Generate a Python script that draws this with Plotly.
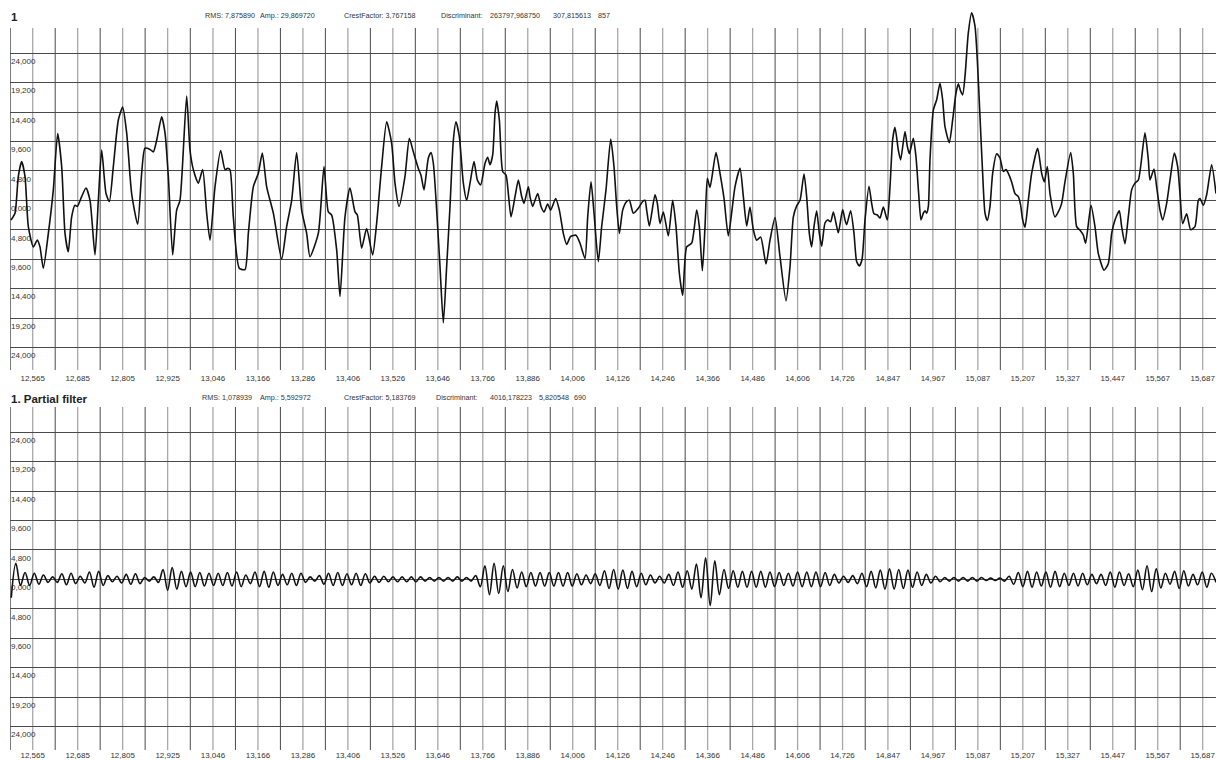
import plotly.graph_objects as go

# ---------------- data ----------------
top_t = [12.5071, 12.5177, 12.5266, 12.5355, 12.5444, 12.5533, 12.5667, 12.5773, 12.5844, 12.5933,
         12.6067, 12.6200, 12.6316, 12.6423, 12.6512, 12.6600, 12.6689, 12.6778, 12.6841, 12.6956,
         12.7072, 12.7179, 12.7312, 12.7401, 12.7490, 12.7606, 12.7695, 12.7801, 12.7935, 12.8050,
         12.8157, 12.8290, 12.8451, 12.8557, 12.8646, 12.8780, 12.8869, 12.8958, 12.9091, 12.9180,
         12.9269, 12.9385, 12.9491, 12.9580, 12.9758, 12.9847, 12.9936, 13.0069, 13.0185, 13.0292,
         13.0381, 13.0514, 13.0665, 13.0781, 13.0852, 13.0914, 13.1003, 13.1163, 13.1315, 13.1404,
         13.1537, 13.1670, 13.1777, 13.1893, 13.2071, 13.2293, 13.2426, 13.2560, 13.2693, 13.2827,
         13.2960, 13.3049, 13.3271, 13.3423, 13.3538, 13.3627, 13.3761, 13.3850, 13.3983, 13.4116,
         13.4250, 13.4312, 13.4428, 13.4561, 13.4721, 13.4828, 13.4961, 13.5095, 13.5228, 13.5317,
         13.5424,
         13.5584, 13.5700, 13.5807, 13.5940, 13.6011, 13.6091, 13.6207, 13.6278, 13.6341, 13.6429,
         13.6518, 13.6607, 13.6696, 13.6785, 13.6874, 13.6945, 13.7034, 13.7141, 13.7230, 13.7319,
         13.7426, 13.7515, 13.7604, 13.7719, 13.7790, 13.7853, 13.7924, 13.7986, 13.8031, 13.8102,
         13.8191, 13.8280, 13.8342, 13.8413, 13.8520, 13.8609, 13.8698, 13.8760, 13.8876, 13.8920,
         13.8991, 13.9125, 13.9214, 13.9294, 13.9391, 13.9471, 13.9605, 13.9703, 13.9809, 13.9898,
         14.0005, 14.0147, 14.0254, 14.0388, 14.0459, 14.0548, 14.0628, 14.0743, 14.0832, 14.0948,
         14.1073, 14.1161, 14.1233, 14.1304, 14.1393, 14.1499, 14.1571, 14.1677, 14.1811, 14.1926,
         14.1989, 14.2033, 14.2104, 14.2255, 14.2318, 14.2389, 14.2478, 14.2611, 14.2727, 14.2816,
         14.2905, 14.2994, 14.3100, 14.3234, 14.3367, 14.3438, 14.3519, 14.3590, 14.3652, 14.3723,
         14.3883, 14.3990, 14.4097, 14.4212, 14.4390, 14.4524, 14.4613, 14.4702, 14.4790, 14.4879,
         14.4968, 14.5075, 14.5217, 14.5324, 14.5458, 14.5591, 14.5751, 14.5858, 14.5947, 14.6036,
         14.6125,
         14.6231, 14.6302, 14.6373, 14.6435, 14.6498, 14.6569, 14.6640, 14.6702, 14.6791, 14.6862,
         14.6942, 14.7014, 14.7085, 14.7147, 14.7263, 14.7325, 14.7369, 14.7476, 14.7565, 14.7636,
         14.7707, 14.7778, 14.7859, 14.7965, 14.8036, 14.8099, 14.8188, 14.8259, 14.8348, 14.8454,
         14.8526, 14.8597, 14.8659, 14.8748, 14.8810, 14.8926, 14.8988, 14.9042, 14.9148, 14.9219,
         14.9291, 14.9353, 14.9415, 14.9460, 14.9504, 14.9549, 14.9593, 14.9682, 14.9771, 14.9860,
         14.9931, 14.9993, 15.0109, 15.0198, 15.0287, 15.0349, 15.0411, 15.0465, 15.0527, 15.0616,
         15.0705, 15.0794, 15.0856, 15.0927, 15.0998, 15.1061, 15.1123, 15.1194, 15.1265, 15.1372,
         15.1461, 15.1550, 15.1621, 15.1683, 15.1772, 15.1861, 15.1950, 15.2012, 15.2066, 15.2128,
         15.2217, 15.2306, 15.2466, 15.2573, 15.2644, 15.2724, 15.2795, 15.2928, 15.3017, 15.3106,
         15.3195, 15.3347, 15.3418, 15.3507, 15.3613, 15.3685, 15.3747, 15.3889, 15.3996, 15.4085,
         15.4236, 15.4352, 15.4441, 15.4530, 15.4645, 15.4707, 15.4796, 15.4885, 15.4974, 15.5063,
         15.5152, 15.5214, 15.5330, 15.5419, 15.5463, 15.5570, 15.5641, 15.5730, 15.5801, 15.5908,
         15.5997, 15.6113, 15.6202, 15.6264, 15.6335, 15.6442, 15.6549, 15.6664, 15.6753, 15.6798,
         15.6887, 15.6976, 15.7109, 15.7225]

top_v = [-3.2, -2.1, 3.9, 6.3, 3.9, -4.3, -7.6, -6.5, -7.6, -11.1,
         -5.4, 1.7, 10.9, 5.5, -5.4, -8.4, -2.7, -0.8, -1.0, 0.6,
         2.0, 0.0, -8.9, 0.0, 8.2, 1.1, -0.2, 5.5, 13.1, 15.2,
         11.0, 1.1, -3.9, 4.4, 8.5, 8.3, 7.9, 9.8, 13.6, 11.0,
         3.9, -8.9, -1.6, 0.0, 17.0, 8.2, 5.0, 2.8, 5.0, -2.1,
         -6.5, 2.2, 8.1, 5.0, 5.2, 5.0, -2.7, -11.1, -11.3, -5.4,
         2.2, 4.4, 7.7, 2.2, -2.1, -9.6, -4.3, 0.0, 7.8, -1.6,
         -5.4, -9.2, -5.4, 5.5, -1.9, -2.4, -8.1, -15.7, -2.7, 2.0,
         -1.9, -2.4, -7.8, -4.6, -8.9, -3.7, 5.5, 12.8, 9.3, 2.8,
         -1.0,
         3.9, 10.1, 7.9, 5.2, 4.1, 1.7, 6.9, 7.8, 6.0, -1.6,
         -10.8, -20.0, -10.8, -1.0, 9.8, 12.8, 10.4, 2.8, 0.0, 2.8,
         6.3, 3.3, 2.5, 6.0, 7.0, 5.8, 7.4, 14.2, 16.2, 13.1,
         4.7, 4.1, 1.1, -2.7, 0.6, 3.3, 0.6, -0.5, 2.2, 0.6,
         -1.0, 1.1, -1.0, -1.9, -0.6, -1.6, 0.3, -1.6, -5.4, -7.2,
         -5.9, -5.7, -7.0, -9.5, -2.7, 3.0, -2.1, -10.0, -4.3, 1.7,
         10.0, 5.5, -1.0, -5.4, -1.6, -0.2, 0.0, -2.1, -1.3, -0.2,
         0.0, -1.6, -4.2, 0.9, -0.5, -3.8, -1.9, -5.8, 0.0, -4.3,
         -11.9, -15.5, -7.6, -7.0, -1.6, -4.3, -11.5, -4.3, 3.6, 2.1,
         7.8, 4.4, 0.3, -5.8, 2.2, 5.2, 0.6, -4.2, -1.1, -4.8,
         -6.5, -6.0, -10.4, -6.5, -2.8, -9.2, -16.4, -10.8, -2.7, -0.9,
         0.0,
         4.3, 0.6, -5.4, -7.6, -4.3, -1.7, -5.4, -7.5, -3.7, -3.2,
         -3.5, -1.9, -3.7, -5.3, -1.5, -3.2, -4.0, -1.7, -5.4, -10.0,
         -10.7, -9.7, -3.2, 2.3, -0.5, -2.2, -2.4, -2.9, -1.1, -3.2,
         2.2, 9.9, 11.9, 8.2, 6.6, 11.2, 8.8, 7.6, 10.1, 7.1,
         1.1, -3.2, -2.1, -1.7, -2.1, -1.0, 6.6, 14.7, 16.4, 19.1,
         16.4, 12.0, 9.4, 13.1, 17.5, 19.0, 17.8, 17.2, 20.2, 27.3,
         30.6, 28.4, 22.9, 13.7, 4.4, -2.1, -3.3, -1.0, 4.4, 7.6,
         6.9, 4.7, 5.0, 4.4, 3.0, 1.1, 0.6, -0.8, -3.2, -4.4,
         0.0, 4.4, 8.5, 4.4, 3.0, 5.5, 1.1, -2.7, -1.9, -0.5,
         3.0, 7.8, 4.4, -4.3, -5.0, -5.7, -7.0, -0.8, -4.3, -8.7,
         -11.4, -10.3, -5.4, -3.2, -1.7, -4.3, -7.1, -2.7, 1.7, 2.8,
         3.3, 5.5, 11.0, 6.6, 3.3, 5.1, 2.2, -1.6, -3.2, -0.5,
         3.3, 7.7, 5.5, 1.1, -3.8, -2.2, -4.8, -4.3, 0.0, 0.3,
         -0.8, 0.9, 5.8, 1.1]

# filtered signal: successive extremes (trough, peak, ...) on a regular time base
filt_t0 = 12.5078
filt_step = 0.01227
filt_vals = [
    -3.0, 2.6, -1.0, 1.1, -1.0, 1.0, -0.8, 0.7, -0.5, 0.4,
    -0.5, 0.9, -0.9, 1.0, -0.7, 0.5, -0.6, 1.2, -1.3, 1.3,
    -1.0, 0.6, -0.4, 0.5, -0.6, 0.8, -0.8, 0.9, -0.7, 0.3,
    -0.3, 0.4, -0.5, 1.6, -1.8, 1.9, -1.6, 1.3, -1.2, 1.2,
    -1.2, 1.1, -1.1, 1.0, -1.0, 1.0, -1.0, 1.1, -1.1, 1.2,
    -1.2, 0.7, -0.7, 1.2, -1.2, 1.3, -1.3, 1.2, -1.0, 0.8,
    -0.9, 1.0, -1.0, 1.0, -0.5, 0.4, -0.3, 0.6, -0.8, 1.0,
    -1.0, 1.1, -1.0, 0.9, -0.9, 1.0, -1.0, 0.9, -0.6, 0.5,
    -0.5, 0.5, -0.4, 0.4, -0.4, 0.4, -0.4, 0.4, -0.4, 0.4,
    -0.3, 0.3, -0.3, 0.3, -0.3, 0.3, -0.3, 0.4, -0.3, 0.3,
    -0.3, 0.6, -1.2, 2.2, -2.5, 2.6, -2.3, 2.2, -2.0, 1.6,
    -1.4, 1.2, -1.2, 1.1, -1.1, 1.1, -1.1, 1.1, -1.1, 1.1,
    -1.1, 1.1, -1.1, 0.9, -0.9, 0.7, -0.7, 0.9, -1.0, 1.4,
    -1.5, 1.6, -1.6, 1.5, -1.5, 1.3, -1.2, 1.0, -0.9, 0.7,
    -0.6, 0.5, -0.6, 0.8, -1.0, 1.2, -1.3, 1.4, -1.6, 2.5,
    -3.0, 3.5, -4.3, 3.0, -2.5, 1.6, -1.5, 1.4, -1.3, 1.3,
    -1.3, 1.3, -1.3, 1.3, -1.3, 1.2, -1.2, 1.1, -1.0, 1.0,
    -1.1, 1.2, -1.2, 1.2, -1.2, 1.2, -1.2, 1.1, -1.0, 0.8,
    -0.6, 0.5, -0.5, 0.6, -0.7, 1.0, -1.2, 1.3, -1.4, 1.5,
    -1.6, 1.7, -1.6, 1.6, -1.5, 1.5, -1.3, 1.2, -1.0, 0.8,
    -0.6, 0.5, -0.4, 0.3, -0.3, 0.3, -0.3, 0.3, -0.3, 0.3,
    -0.3, 0.3, -0.2, 0.2, -0.2, 0.2, -0.3, 0.5, -0.8, 1.1,
    -1.2, 1.3, -1.3, 1.2, -1.1, 1.2, -1.3, 1.3, -1.2, 1.0,
    -1.0, 1.0, -1.1, 1.0, -0.9, 0.8, -0.7, 0.8, -1.0, 1.2,
    -1.3, 1.2, -1.0, 0.9, -1.2, 1.5, -1.7, 2.2, -2.0, 1.7,
    -1.4, 1.0, -0.8, 1.3, -1.5, 1.4, -1.1, 0.8, -0.9, 1.2,
    -1.3, 1.0, -0.5]

x_tick_vals = [12.565, 12.685, 12.805, 12.925, 13.046, 13.166, 13.286, 13.406, 13.526,
               13.646, 13.766, 13.886, 14.006, 14.126, 14.246, 14.366, 14.486, 14.606,
               14.726, 14.847, 14.967, 15.087, 15.207, 15.327, 15.447, 15.567, 15.687]
x_tick_text = ["12,565", "12,685", "12,805", "12,925", "13,046", "13,166", "13,286", "13,406", "13,526",
               "13,646", "13,766", "13,886", "14,006", "14,126", "14,246", "14,366", "14,486", "14,606",
               "14,726", "14,847", "14,967", "15,087", "15,207", "15,327", "15,447", "15,567", "15,687"]
y_tick_vals = [24, 19.2, 14.4, 9.6, 4.8, 0, -4.8, -9.6, -14.4, -19.2, -24]
y_tick_text = ["24,000", "19,200", "14,400", "9,600", "4,800", "0,000",
               "4,800", "9,600", "14,400", "19,200", "24,000"]

top_header = ["RMS: 7,875890", "Amp.: 29,869720", "CrestFactor: 3,767158",
              "Discriminant:", "263797,968750", "307,815613", "857"]
bottom_header = ["RMS: 1,078939", "Amp.: 5,592972", "CrestFactor: 5,183769",
                 "Discriminant:", "4016,178223", "5,820548", "690"]
top_title = "1"
bottom_title = "1. Partial filter"

# ---------------- layout helpers ----------------
W, H = 1216, 760
FONT = "Liberation Sans, Arial, sans-serif"
DARK = "#4a4a4a"
LIGHT = "#a8a8a8"
TXT = "#333333"


def fx(px):
    return px / W


def fy(py):
    return 1 - py / H


x_range = [12.5044, 15.7225]
top_dom = [fy(370), 1.0]
bot_dom = [fy(750), fy(379)]
top_rng = [-27.68, 32.67]
bot_rng = [-27.84, 32.67]

filt_t = [filt_t0 + i * filt_step for i in range(len(filt_vals))]

fig = go.Figure()
fig.add_trace(go.Scatter(x=top_t, y=top_v, mode="lines", xaxis="x", yaxis="y",
                         line=dict(color="#111111", width=1.6, shape="spline", smoothing=0.6),
                         hoverinfo="skip", showlegend=False))
fig.add_trace(go.Scatter(x=filt_t, y=filt_vals, mode="lines", xaxis="x2", yaxis="y2",
                         line=dict(color="#111111", width=1.6, shape="spline", smoothing=1.0),
                         hoverinfo="skip", showlegend=False))

# vertical grid: light at labelled ticks, dark halfway between
half = (x_tick_vals[1] - x_tick_vals[0]) / 2
dark_x = [x_tick_vals[0] - half] + [(a + b) / 2 for a, b in zip(x_tick_vals[:-1], x_tick_vals[1:])] \
         + [x_tick_vals[-1] + half]
shapes = []
for xref, y0, y1 in (("x", fy(370), fy(28)), ("x2", fy(750), fy(407))):
    for xv in x_tick_vals:
        shapes.append(dict(type="line", xref=xref, yref="paper", x0=xv, x1=xv, y0=y0, y1=y1,
                           line=dict(color=LIGHT, width=1.3), layer="below"))
    for xv in dark_x:
        if x_range[0] <= xv <= x_range[1]:
            shapes.append(dict(type="line", xref=xref, yref="paper", x0=xv, x1=xv, y0=y0, y1=y1,
                               line=dict(color=DARK, width=1), layer="below"))

common_x = dict(range=x_range, domain=[fx(10), 1], tickmode="array", tickvals=x_tick_vals,
                ticktext=x_tick_text, showgrid=False, zeroline=False, showline=False,
                ticks="", automargin=False,
                tickfont=dict(family=FONT, size=8, color=TXT), fixedrange=True)
# y labels sit just right of the left border, a little below their grid line
common_y = dict(tickmode="array", tickvals=y_tick_vals, ticktext=y_tick_text, showgrid=True,
                gridcolor=DARK, gridwidth=1, zeroline=False, showline=False, ticks="",
                side="right", anchor="free", position=fx(10),
                ticklabelshift=8, ticklabelstandoff=0, automargin=False,
                tickfont=dict(family=FONT, size=8, color=TXT), layer="below traces",
                fixedrange=True)

fig.update_layout(
    template="none",
    width=W, height=H, margin=dict(l=0, r=0, t=0, b=0, pad=0, autoexpand=False),
    paper_bgcolor="white", plot_bgcolor="white",
    font=dict(family=FONT, color=TXT),
    xaxis=dict(anchor="y", ticklabelstandoff=2, **common_x),
    xaxis2=dict(anchor="y2", ticklabelstandoff=-1, **common_x),
    yaxis=dict(domain=top_dom, range=top_rng, **common_y),
    yaxis2=dict(domain=bot_dom, range=bot_rng, **common_y),
    shapes=shapes,
    showlegend=False,
)

ann = []


def add_text(txt, px, py, size, bold=False, color=TXT):
    ann.append(dict(text=("<b>%s</b>" % txt) if bold else txt, x=fx(px), y=fy(py),
                    xref="paper", yref="paper", xanchor="left", yanchor="middle",
                    borderpad=0, showarrow=False, font=dict(family=FONT, size=size, color=color)))


add_text(top_title, 10, 17, 11.5, bold=True, color="#222222")
add_text(bottom_title, 10, 399, 11.5, bold=True, color="#222222")
for txt, px in zip(top_header, [204, 259, 343, 440, 489, 552, 597]):
    add_text(txt, px, 15, 7.2)
for txt, px in zip(bottom_header, [201, 259, 343, 435, 489, 538, 573]):
    add_text(txt, px, 397, 7.2)
fig.update_layout(annotations=ann)

# the page body has a default 8 px margin; remove it so the 1216x760 figure fills the window
fig.write_html("out.html",
               config={"displayModeBar": False, "staticPlot": True},
               post_script="document.body.style.margin='0px';"
                           "document.documentElement.style.overflow='hidden';")
